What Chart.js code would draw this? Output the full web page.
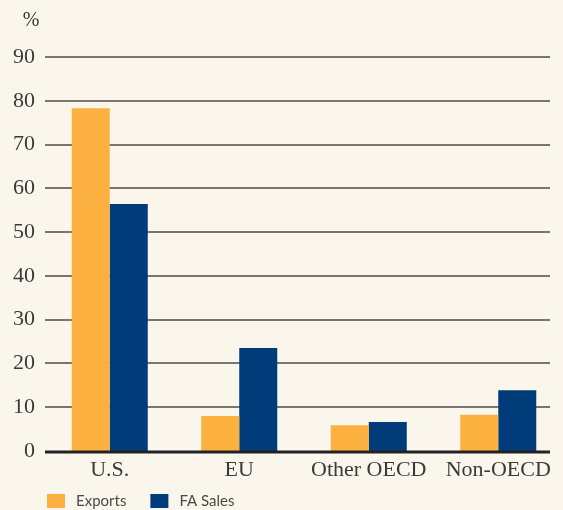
<!DOCTYPE html>
<html>
<head>
<meta charset="utf-8">
<script src="https://cdn.jsdelivr.net/npm/chart.js@4"></script>
<style>
  html, body { margin: 0; padding: 0; background: #faf6ec; }
  #wrap { width: 563px; height: 510px; }
</style>
</head>
<body>
<div id="wrap"><canvas id="chart" width="563" height="510"></canvas></div>
<script>
// regions and shares (%)
const regions = ["U.S.", "EU", "Other OECD", "Non-OECD"];
const exportsShare = [78.3, 8.0, 5.9, 8.3];
const faSalesShare = [56.4, 23.5, 6.6, 13.9];
const yTicks = [0, 10, 20, 30, 40, 50, 60, 70, 80, 90];

const serif = "'Liberation Serif', 'DejaVu Serif', serif";
const sans = "Lato, 'Open Sans', sans-serif";

// own grid: lines stop short of the right edge like the original
const gridPlugin = {
  id: "grid",
  beforeDatasetsDraw(chart) {
    const ctx = chart.ctx;
    const y = chart.scales.y;
    const left = chart.chartArea.left;
    ctx.save();
    yTicks.forEach(v => {
      if (v === 0) return;
      const py = Math.round(y.getPixelForValue(v));
      ctx.strokeStyle = "#7a756f";
      ctx.lineWidth = 2;
      ctx.beginPath();
      ctx.moveTo(left, py);
      ctx.lineTo(550, py);
      ctx.stroke();
    });
    ctx.restore();
  },
  afterDatasetsDraw(chart) {
    const ctx = chart.ctx;
    const y = chart.scales.y;
    const py = Math.round(y.getPixelForValue(0)) + 1;
    ctx.save();
    ctx.strokeStyle = "#222";
    ctx.lineWidth = 3;
    ctx.beginPath();
    ctx.moveTo(chart.chartArea.left, py);
    ctx.lineTo(550, py);
    ctx.stroke();
    // unit label
    ctx.fillStyle = "#3a3a3a";
    ctx.font = "20px " + serif;
    ctx.textAlign = "center";
    ctx.textBaseline = "middle";
    ctx.fillText("%", 31, 21);
    ctx.restore();
  }
};

// legend drawn by hand so it sits where the original has it
const legendPlugin = {
  id: "manualLegend",
  afterDraw(chart) {
    const ctx = chart.ctx;
    let x = 47;
    ctx.save();
    ctx.font = "15px " + sans;
    ctx.textBaseline = "middle";
    ctx.textAlign = "left";
    chart.data.datasets.forEach(ds => {
      ctx.fillStyle = ds.backgroundColor;
      ctx.fillRect(x, 494, 18, 14);
      x += 18 + 11;
      ctx.fillStyle = "#4a4a4a";
      ctx.fillText(ds.label, x, 501);
      x += ctx.measureText(ds.label).width + 24;
    });
    ctx.restore();
  }
};

const chart = new Chart(document.getElementById("chart").getContext("2d"), {
  type: "bar",
  data: {
    labels: regions,
    datasets: [
      { label: "Exports", data: exportsShare, backgroundColor: "#fbb040" },
      { label: "FA Sales", data: faSalesShare, backgroundColor: "#003b7a" }
    ]
  },
  options: {
    responsive: false,
    animation: false,
    layout: { padding: { top: 57, right: 0, left: 0, bottom: 0 } },
    datasets: { bar: { categoryPercentage: 0.587, barPercentage: 1.0 } },
    scales: {
      x: {
        afterFit(scale) { scale.height = 59; },
        grid: { display: false },
        border: { display: false },
        ticks: { color: "#3a3a3a", font: { family: serif, size: 22 }, padding: -2 }
      },
      y: {
        min: 0, max: 90,
        afterFit(scale) { scale.width = 45; },
        afterBuildTicks(scale) { scale.ticks = yTicks.map(v => ({ value: v })); },
        grid: { display: false, drawTicks: false },
        border: { display: false },
        ticks: { color: "#3a3a3a", font: { family: serif, size: 22 }, padding: 10 }
      }
    },
    plugins: {
      legend: { display: false },
      tooltip: { enabled: false }
    }
  },
  plugins: [gridPlugin, legendPlugin]
});
</script>
</body>
</html>
